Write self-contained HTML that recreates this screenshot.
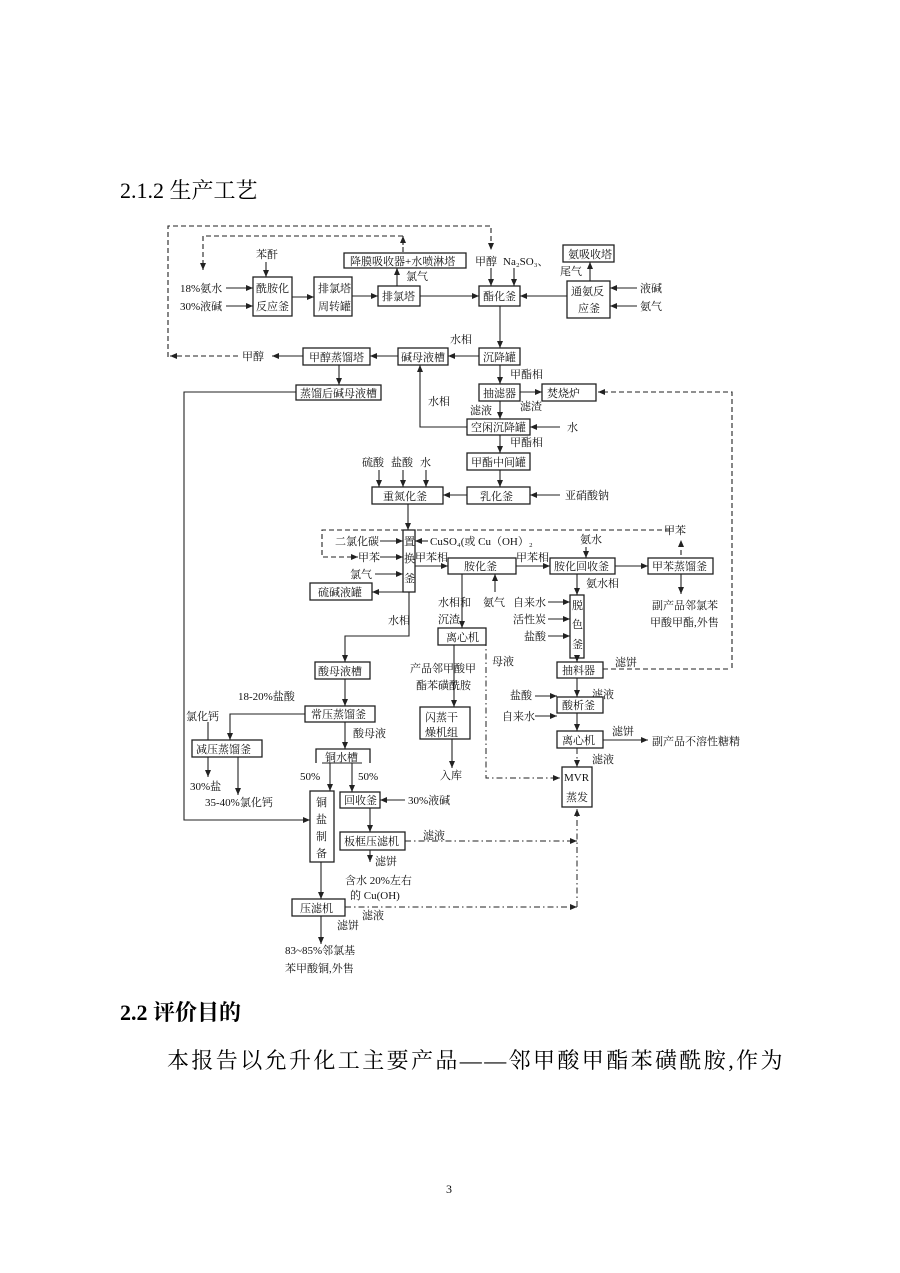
<!DOCTYPE html>
<html><head><meta charset="utf-8"><style>
body{margin:0;background:#fff}
svg{display:block}
.t{font-family:"Liberation Serif","Noto Serif CJK SC",serif;font-size:11px;fill:#111}
.h{font-family:"Liberation Serif","Noto Serif CJK SC",serif;font-size:22px;fill:#000}
rect{fill:#fff;stroke:#222;stroke-width:1.3}
.l{fill:none;stroke:#222;stroke-width:1.1}
.d{fill:none;stroke:#222;stroke-width:1.1;stroke-dasharray:5 3}
.dd{fill:none;stroke:#222;stroke-width:1;stroke-dasharray:6 3 1.5 3}
</style></head><body>
<svg width="900" height="1273" viewBox="0 0 900 1273" xmlns="http://www.w3.org/2000/svg">
<defs><marker id="a" markerWidth="8" markerHeight="8" refX="7" refY="4" orient="auto" markerUnits="userSpaceOnUse"><path d="M0,1 L7,4 L0,7 Z" fill="#222"/></marker></defs>
<text class="h" x="120" y="198">2.1.2 生产工艺</text>
<text class="h" x="120" y="1020" style="font-weight:bold">2.2 评价目的</text>
<text class="h" x="167" y="1068" style="letter-spacing:2.4px">本报告以允升化工主要产品——邻甲酸甲酯苯磺酰胺,作为</text>
<text class="t" x="446" y="1193" style="font-size:12px">3</text>

<g>
<polyline class="d" points="168,357 168,226 491,226 491,250" marker-end="url(#a)"/>
<polyline class="d" points="403,252 403,236 203,236 203,270" marker-end="url(#a)"/>
<line class="d" x1="403" y1="245" x2="403" y2="236" marker-end="url(#a)"/>

<rect x="253" y="277" width="39" height="39"/><text class="t" x="256" y="292">酰胺化</text><text class="t" x="256" y="310">反应釜</text>
<rect x="314" y="277" width="38" height="39"/><text class="t" x="318" y="292">排氯塔</text><text class="t" x="318" y="310">周转罐</text>
<rect x="378" y="286" width="42" height="20"/><text class="t" x="382" y="300">排氯塔</text>
<rect x="344" y="253" width="122" height="15"/><text class="t" x="350" y="265">降膜吸收器+水喷淋塔</text>
<rect x="479" y="286" width="41" height="20"/><text class="t" x="483" y="300">酯化釜</text>
<rect x="563" y="245" width="51" height="17"/><text class="t" x="568" y="258">氨吸收塔</text>
<rect x="567" y="281" width="43" height="37"/><text class="t" x="571" y="295">通氨反</text><text class="t" x="578" y="312">应釜</text>
<text class="t" x="180" y="292">18%氨水</text><text class="t" x="180" y="310">30%液碱</text>
<line class="l" x1="226" y1="288" x2="253" y2="288" marker-end="url(#a)"/>
<line class="l" x1="226" y1="306" x2="253" y2="306" marker-end="url(#a)"/>
<text class="t" x="256" y="258">苯酐</text>
<line class="l" x1="266" y1="262" x2="266" y2="277" marker-end="url(#a)"/>
<line class="l" x1="292" y1="297" x2="314" y2="297" marker-end="url(#a)"/>
<line class="l" x1="352" y1="296" x2="378" y2="296" marker-end="url(#a)"/>
<line class="l" x1="397" y1="286" x2="397" y2="268" marker-end="url(#a)"/>
<text class="t" x="406" y="280">氯气</text>
<line class="l" x1="420" y1="296" x2="479" y2="296" marker-end="url(#a)"/>
<text class="t" x="475" y="265">甲醇</text><text class="t" x="503" y="265">Na₂SO₃、</text>
<line class="l" x1="491" y1="268" x2="491" y2="286" marker-end="url(#a)"/>
<line class="l" x1="514" y1="268" x2="514" y2="286" marker-end="url(#a)"/>
<line class="l" x1="567" y1="296" x2="520" y2="296" marker-end="url(#a)"/>
<text class="t" x="560" y="275">尾气</text>
<line class="l" x1="590" y1="281" x2="590" y2="262" marker-end="url(#a)"/>
<text class="t" x="640" y="292">液碱</text><text class="t" x="640" y="310">氨气</text>
<line class="l" x1="637" y1="288" x2="610" y2="288" marker-end="url(#a)"/>
<line class="l" x1="637" y1="306" x2="610" y2="306" marker-end="url(#a)"/>

<line class="l" x1="500" y1="306" x2="500" y2="348" marker-end="url(#a)"/>
<rect x="479" y="348" width="41" height="17"/><text class="t" x="483" y="361">沉降罐</text>
<text class="t" x="450" y="343">水相</text>
<line class="l" x1="479" y1="356" x2="448" y2="356" marker-end="url(#a)"/>
<rect x="398" y="348" width="50" height="17"/><text class="t" x="401" y="361">碱母液槽</text>
<line class="l" x1="398" y1="356" x2="370" y2="356" marker-end="url(#a)"/>
<rect x="303" y="348" width="67" height="17"/><text class="t" x="309" y="361">甲醇蒸馏塔</text>
<line class="l" x1="303" y1="356" x2="272" y2="356" marker-end="url(#a)"/>
<text class="t" x="242" y="360">甲醇</text>
<line class="d" x1="238" y1="356" x2="170" y2="356" marker-end="url(#a)"/>
<line class="l" x1="339" y1="365" x2="339" y2="385" marker-end="url(#a)"/>
<rect x="296" y="385" width="85" height="15"/><text class="t" x="300" y="397">蒸馏后碱母液槽</text>
<polyline class="l" points="296,392 184,392 184,820 310,820" marker-end="url(#a)"/>

<line class="l" x1="500" y1="365" x2="500" y2="384" marker-end="url(#a)"/>
<text class="t" x="510" y="378">甲酯相</text>
<rect x="479" y="384" width="41" height="17"/><text class="t" x="483" y="397">抽滤器</text>
<line class="l" x1="520" y1="392" x2="542" y2="392" marker-end="url(#a)"/>
<text class="t" x="520" y="410">滤渣</text>
<rect x="542" y="384" width="54" height="17"/><text class="t" x="547" y="397">焚烧炉</text>
<polyline class="d" points="732,668 732,392 598,392" marker-end="url(#a)"/>
<line class="l" x1="500" y1="401" x2="500" y2="419" marker-end="url(#a)"/>
<text class="t" x="470" y="414">滤液</text>
<text class="t" x="428" y="405">水相</text>
<rect x="467" y="419" width="63" height="16"/><text class="t" x="471" y="431">空闲沉降罐</text>
<polyline class="l" points="467,427 420,427 420,365" marker-end="url(#a)"/>
<line class="l" x1="560" y1="427" x2="530" y2="427" marker-end="url(#a)"/>
<text class="t" x="567" y="431">水</text>
<line class="l" x1="500" y1="435" x2="500" y2="453" marker-end="url(#a)"/>
<text class="t" x="510" y="446">甲酯相</text>
<rect x="467" y="453" width="63" height="17"/><text class="t" x="471" y="466">甲酯中间罐</text>
<line class="l" x1="500" y1="470" x2="500" y2="487" marker-end="url(#a)"/>
<rect x="467" y="487" width="63" height="17"/><text class="t" x="480" y="500">乳化釜</text>
<line class="l" x1="560" y1="495" x2="530" y2="495" marker-end="url(#a)"/>
<text class="t" x="565" y="499">亚硝酸钠</text>
<line class="l" x1="467" y1="495" x2="443" y2="495" marker-end="url(#a)"/>
<rect x="372" y="487" width="71" height="17"/><text class="t" x="383" y="500">重氮化釜</text>
<text class="t" x="362" y="466">硫酸</text><text class="t" x="391" y="466">盐酸</text><text class="t" x="420" y="466">水</text>
<line class="l" x1="379" y1="470" x2="379" y2="487" marker-end="url(#a)"/>
<line class="l" x1="403" y1="470" x2="403" y2="487" marker-end="url(#a)"/>
<line class="l" x1="426" y1="470" x2="426" y2="487" marker-end="url(#a)"/>
<line class="l" x1="408" y1="504" x2="408" y2="530" marker-end="url(#a)"/>

<rect x="403" y="530" width="12" height="62"/>
<text class="t" x="404" y="545">置</text><text class="t" x="404" y="562">换</text><text class="t" x="404" y="582">釜</text>
<polyline class="d" points="670,530 322,530 322,557 358,557" marker-end="url(#a)"/>
<text class="t" x="664" y="534">甲苯</text>
<line class="d" x1="681" y1="555" x2="681" y2="540" marker-end="url(#a)"/>
<text class="t" x="335" y="545">二氯化碳</text>
<line class="l" x1="380" y1="541" x2="403" y2="541" marker-end="url(#a)"/>
<text class="t" x="358" y="561">甲苯</text>
<line class="l" x1="380" y1="557" x2="403" y2="557" marker-end="url(#a)"/>
<text class="t" x="350" y="578">氯气</text>
<line class="l" x1="375" y1="574" x2="403" y2="574" marker-end="url(#a)"/>
<line class="l" x1="428" y1="541" x2="415" y2="541" marker-end="url(#a)"/>
<text class="t" x="430" y="545">CuSO₄(或 Cu（OH）₂</text>
<line class="l" x1="403" y1="592" x2="372" y2="592" marker-end="url(#a)"/>
<rect x="310" y="583" width="62" height="17"/><text class="t" x="318" y="596">硫碱液罐</text>
<text class="t" x="415" y="561">甲苯相</text>
<line class="l" x1="415" y1="566" x2="448" y2="566" marker-end="url(#a)"/>
<rect x="448" y="558" width="68" height="16"/><text class="t" x="464" y="570">胺化釜</text>
<text class="t" x="516" y="561">甲苯相</text>
<line class="l" x1="516" y1="566" x2="550" y2="566" marker-end="url(#a)"/>
<rect x="550" y="558" width="65" height="16"/><text class="t" x="554" y="570">胺化回收釜</text>
<text class="t" x="580" y="543">氨水</text>
<line class="l" x1="586" y1="547" x2="586" y2="558" marker-end="url(#a)"/>
<line class="l" x1="615" y1="566" x2="648" y2="566" marker-end="url(#a)"/>
<rect x="648" y="558" width="65" height="16"/><text class="t" x="652" y="570">甲苯蒸馏釜</text>
<line class="l" x1="681" y1="574" x2="681" y2="594" marker-end="url(#a)"/>
<text class="t" x="652" y="609">副产品邻氯苯</text><text class="t" x="650" y="626">甲酸甲酯,外售</text>
<line class="l" x1="577" y1="574" x2="577" y2="595" marker-end="url(#a)"/>
<text class="t" x="586" y="587">氨水相</text>
<rect x="570" y="595" width="14" height="63"/>
<text class="t" x="572" y="609">脱</text><text class="t" x="572" y="628">色</text><text class="t" x="572" y="648">釜</text>
<text class="t" x="513" y="606">自来水</text><line class="l" x1="548" y1="602" x2="570" y2="602" marker-end="url(#a)"/>
<text class="t" x="513" y="623">活性炭</text><line class="l" x1="548" y1="619" x2="570" y2="619" marker-end="url(#a)"/>
<text class="t" x="524" y="640">盐酸</text><line class="l" x1="548" y1="636" x2="570" y2="636" marker-end="url(#a)"/>
<text class="t" x="438" y="606">水相和</text><text class="t" x="438" y="623">沉渣</text>
<text class="t" x="483" y="606">氨气</text>
<line class="l" x1="495" y1="592" x2="495" y2="574" marker-end="url(#a)"/>
<line class="l" x1="462" y1="574" x2="462" y2="628" marker-end="url(#a)"/>
<rect x="438" y="628" width="48" height="17"/><text class="t" x="446" y="641">离心机</text>
<polyline class="dd" points="486,640 486,778 560,778" marker-end="url(#a)"/>
<text class="t" x="492" y="665">母液</text>
<text class="t" x="410" y="672">产品邻甲酸甲</text><text class="t" x="416" y="689">酯苯磺酰胺</text>
<line class="l" x1="454" y1="645" x2="454" y2="707" marker-end="url(#a)"/>
<rect x="420" y="707" width="50" height="32"/><text class="t" x="425" y="721">闪蒸干</text><text class="t" x="425" y="736">燥机组</text>
<line class="l" x1="452" y1="739" x2="452" y2="768" marker-end="url(#a)"/>
<text class="t" x="440" y="779">入库</text>

<line class="l" x1="577" y1="658" x2="577" y2="662" marker-end="url(#a)"/>
<rect x="557" y="662" width="46" height="16"/><text class="t" x="562" y="674">抽料器</text>
<line class="d" x1="603" y1="669" x2="730" y2="669"/>
<text class="t" x="615" y="666">滤饼</text>
<line class="l" x1="577" y1="678" x2="577" y2="697" marker-end="url(#a)"/>
<text class="t" x="592" y="698">滤液</text>
<text class="t" x="510" y="699">盐酸</text><line class="l" x1="535" y1="696" x2="557" y2="696" marker-end="url(#a)"/>
<text class="t" x="502" y="720">自来水</text><line class="l" x1="535" y1="716" x2="557" y2="716" marker-end="url(#a)"/>
<rect x="557" y="697" width="46" height="16"/><text class="t" x="562" y="709">酸析釜</text>
<line class="l" x1="577" y1="713" x2="577" y2="731" marker-end="url(#a)"/>
<rect x="557" y="731" width="46" height="17"/><text class="t" x="562" y="744">离心机</text>
<text class="t" x="612" y="735">滤饼</text>
<line class="l" x1="603" y1="740" x2="648" y2="740" marker-end="url(#a)"/>
<text class="t" x="652" y="745">副产品不溶性糖精</text>
<line class="dd" x1="577" y1="748" x2="577" y2="767" marker-end="url(#a)"/>
<text class="t" x="592" y="763">滤液</text>
<rect x="562" y="767" width="30" height="40"/><text class="t" x="564" y="781">MVR</text><text class="t" x="566" y="801">蒸发</text>
<polyline class="dd" points="577,907 577,809" marker-end="url(#a)"/>

<polyline class="l" points="409,592 409,636 345,636 345,662" marker-end="url(#a)"/>
<text class="t" x="388" y="624">水相</text>
<rect x="315" y="662" width="55" height="17"/><text class="t" x="318" y="675">酸母液槽</text>
<line class="l" x1="345" y1="679" x2="345" y2="706" marker-end="url(#a)"/>
<text class="t" x="238" y="700">18-20%盐酸</text>
<rect x="305" y="706" width="70" height="16"/><text class="t" x="311" y="718">常压蒸馏釜</text>
<polyline class="l" points="305,714 230,714 230,740" marker-end="url(#a)"/>
<text class="t" x="186" y="720">氯化钙</text>
<line class="l" x1="208" y1="722" x2="208" y2="748" marker-end="url(#a)"/>
<rect x="192" y="740" width="70" height="17"/><text class="t" x="196" y="753">减压蒸馏釜</text>
<line class="l" x1="208" y1="757" x2="208" y2="777" marker-end="url(#a)"/>
<line class="l" x1="238" y1="757" x2="238" y2="795" marker-end="url(#a)"/>
<text class="t" x="190" y="790">30%盐</text>
<text class="t" x="205" y="806">35-40%氯化钙</text>
<line class="l" x1="345" y1="722" x2="345" y2="749" marker-end="url(#a)"/>
<text class="t" x="353" y="737">酸母液</text>
<polyline class="l" points="316,763 316,749 370,749 370,763" style="stroke-width:1.3"/>
<line class="l" x1="322" y1="763" x2="362" y2="763"/>
<text class="t" x="325" y="761">铜水槽</text>
<text class="t" x="300" y="780">50%</text><text class="t" x="358" y="780">50%</text>
<line class="l" x1="330" y1="763" x2="330" y2="791" marker-end="url(#a)"/>
<line class="l" x1="352" y1="763" x2="352" y2="792" marker-end="url(#a)"/>
<rect x="310" y="791" width="24" height="71"/>
<text class="t" x="316" y="806">铜</text><text class="t" x="316" y="823">盐</text><text class="t" x="316" y="840">制</text><text class="t" x="316" y="857">备</text>
<rect x="340" y="792" width="40" height="16"/><text class="t" x="344" y="804">回收釜</text>
<line class="l" x1="405" y1="800" x2="380" y2="800" marker-end="url(#a)"/>
<text class="t" x="408" y="804">30%液碱</text>
<line class="l" x1="370" y1="808" x2="370" y2="832" marker-end="url(#a)"/>
<rect x="340" y="832" width="65" height="18"/><text class="t" x="344" y="845">板框压滤机</text>
<text class="t" x="423" y="839">滤液</text>
<line class="dd" x1="405" y1="841" x2="577" y2="841" marker-end="url(#a)"/>
<line class="l" x1="370" y1="850" x2="370" y2="862" marker-end="url(#a)"/>
<text class="t" x="375" y="865">滤饼</text>
<text class="t" x="345" y="884">含水 20%左右</text>
<text class="t" x="350" y="899">的 Cu(OH)</text>
<line class="l" x1="321" y1="862" x2="321" y2="899" marker-end="url(#a)"/>
<rect x="292" y="899" width="53" height="17"/><text class="t" x="300" y="912">压滤机</text>
<line class="dd" x1="345" y1="907" x2="577" y2="907" marker-end="url(#a)"/>
<text class="t" x="362" y="919">滤液</text>
<text class="t" x="337" y="929">滤饼</text>
<line class="l" x1="321" y1="916" x2="321" y2="944" marker-end="url(#a)"/>
<text class="t" x="285" y="954">83~85%邻氯基</text>
<text class="t" x="285" y="972">苯甲酸铜,外售</text>
</g>
</svg>
</body></html>
